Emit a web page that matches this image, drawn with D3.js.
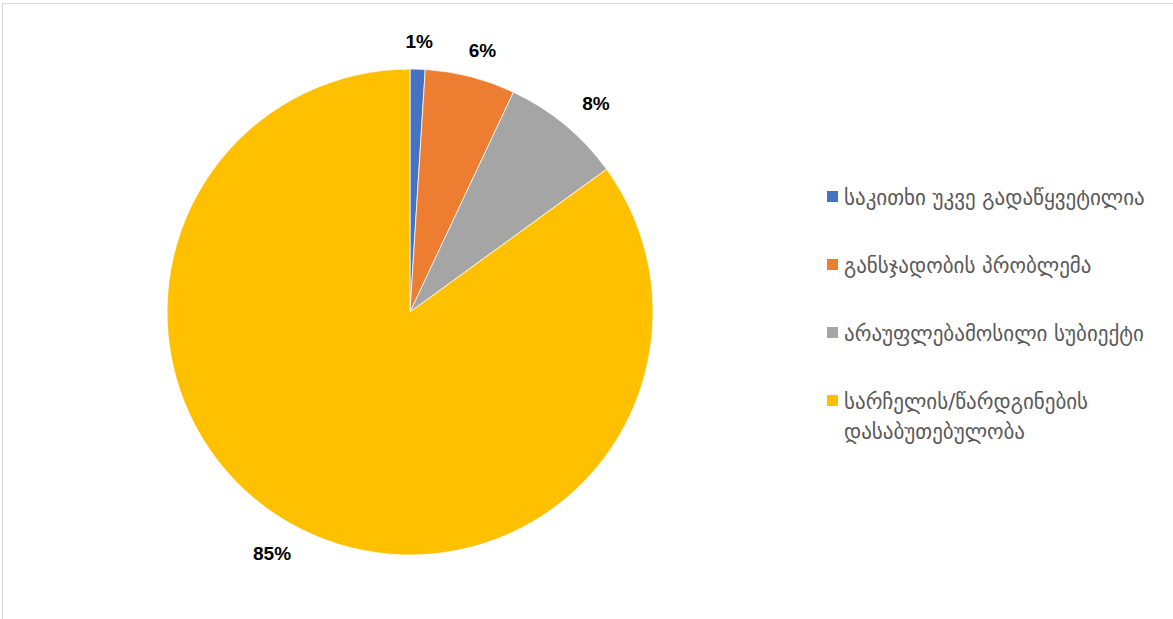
<!DOCTYPE html>
<html>
<head>
<meta charset="utf-8">
<script src="https://cdn.jsdelivr.net/npm/d3@7"></script>
<style>
  html, body { margin: 0; padding: 0; background: #fff; }
  svg { display: block; }
</style>
</head>
<body>
<svg id="chart" width="1173" height="619"></svg>
<script>
// Reasons for outcome of submitted claims (share of cases, %)
const categories = [
  "საკითხი უკვე გადაწყვეტილია",
  "განსჯადობის პრობლემა",
  "არაუფლებამოსილი სუბიექტი",
  "სარჩელის/წარდგინების დასაბუთებულობა"
];
const values = [1, 6, 8, 85];
const labels = ["1%", "6%", "8%", "85%"];
const colors = ["#4472C4", "#ED7D31", "#A5A5A5", "#FFC000"];
// legend lines (long entry wraps onto two lines)
const legendLines = [
  ["საკითხი უკვე გადაწყვეტილია"],
  ["განსჯადობის პრობლემა"],
  ["არაუფლებამოსილი სუბიექტი"],
  ["სარჩელის/წარდგინების", "დასაბუთებულობა"]
];

const svg = d3.select("#chart");

// chart area frame
svg.append("rect")
  .attr("x", 2.5).attr("y", 3.5)
  .attr("width", 1300).attr("height", 800)
  .attr("fill", "#fff")
  .attr("stroke", "#d9d9d9").attr("stroke-width", 1);

const cx = 410, cy = 312, R = 243;

const pie = d3.pie().sort(null).value(d => d)(values);
const arc = d3.arc().innerRadius(0).outerRadius(R);

const g = svg.append("g").attr("transform", `translate(${cx},${cy})`);

g.selectAll("path.slice")
  .data(pie)
  .join("path")
  .attr("class", "slice")
  .attr("d", arc)
  .attr("fill", (d, i) => colors[i])
  .attr("stroke", "#fff")
  .attr("stroke-width", 0.75);

// outside-end data labels
const gap = 17;
g.selectAll("text.pct")
  .data(pie)
  .join("text")
  .attr("class", "pct")
  .attr("font-family", "'Liberation Sans', Arial, sans-serif")
  .attr("font-weight", "bold")
  .attr("font-size", 19)
  .attr("fill", "#000")
  .attr("text-anchor", "middle")
  .attr("dominant-baseline", "central")
  .text((d, i) => labels[i])
  .each(function(d) {
    const a = (d.startAngle + d.endAngle) / 2;
    const bb = this.getBBox();
    const s = Math.sin(a), c = -Math.cos(a);
    const x = (R + gap) * s + bb.width * 1.15 * s;
    const y = (R + gap) * c + (bb.height / 2) * c;
    d3.select(this).attr("x", x).attr("y", y);
  });

// legend
const lx = 827, ly0 = 198, rowGap = 68, lineH = 30;
const legend = svg.append("g");
let y = ly0;
categories.forEach((cat, i) => {
  legend.append("rect")
    .attr("x", lx).attr("y", y - 7)
    .attr("width", 11).attr("height", 11)
    .attr("fill", colors[i]);
  const t = legend.append("text")
    .attr("x", lx + 17).attr("y", y)
    .attr("font-family", "'DejaVu Sans', sans-serif")
    .attr("font-size", 21)
    .attr("fill", "#595959")
    .attr("dominant-baseline", "central");
  legendLines[i].forEach((ln, k) => {
    t.append("tspan").attr("x", lx + 17).attr("dy", k === 0 ? 0 : lineH).text(ln);
  });
  y += rowGap;
});
</script>
</body>
</html>
